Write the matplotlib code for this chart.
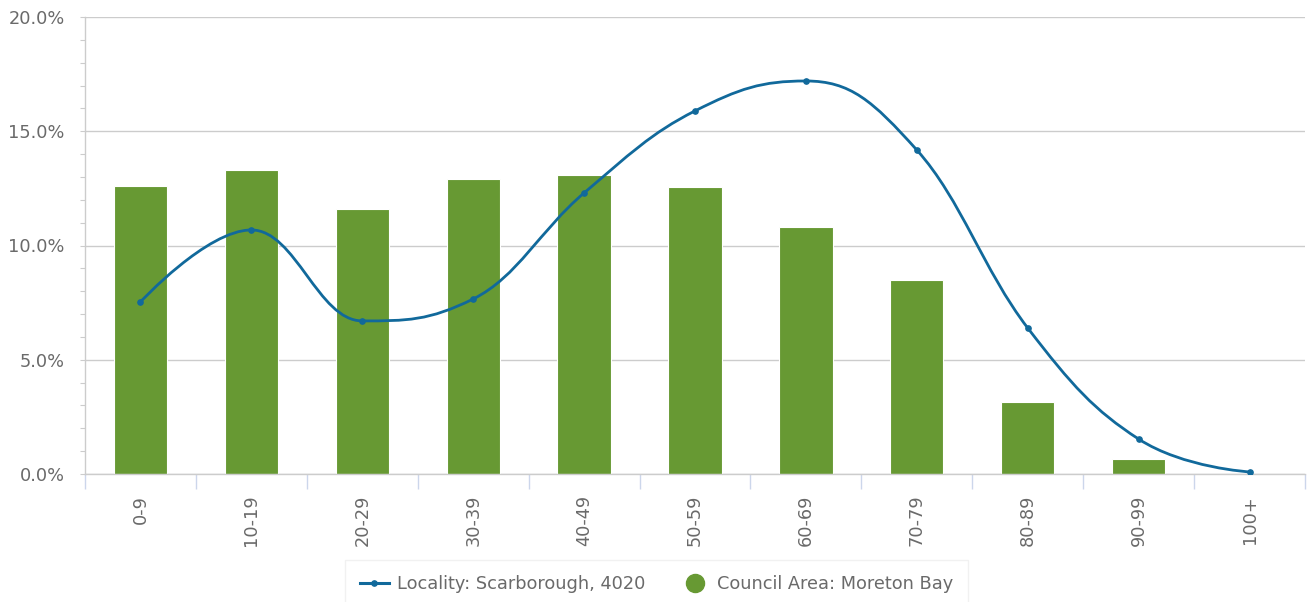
import numpy as np
import matplotlib
matplotlib.use("Agg")
import matplotlib.pyplot as plt
from matplotlib.path import Path
from matplotlib.patches import PathPatch
from matplotlib.lines import Line2D
from matplotlib.ticker import FixedLocator, FuncFormatter

# Age groups
categories = ['0-9', '10-19', '20-29', '30-39', '40-49', '50-59',
              '60-69', '70-79', '80-89', '90-99', '100+']
# Council Area: Moreton Bay (bars), percent
council = [12.6, 13.3, 11.6, 12.9, 13.1, 12.55, 10.8, 8.5, 3.15, 0.66, 0.02]
# Locality: Scarborough, 4020 (spline), percent
locality = [7.53, 10.68, 6.70, 7.66, 12.3, 15.89, 17.2, 14.18, 6.39, 1.53, 0.09]

GREEN = '#679933'
BLUE = '#11699b'
TXT = '#6a6a6a'
GRID = '#cccccc'
TICK = '#ccd6eb'
FS = 12.8


def spline_path(xs, ys, smoothing=1.5):
    # Highcharts-style spline: cubic bezier with corrected control points
    n = len(xs)
    left = [(x, y) for x, y in zip(xs, ys)]
    right = [(x, y) for x, y in zip(xs, ys)]
    denom = smoothing + 1
    for i in range(1, n - 1):
        x, y = xs[i], ys[i]
        lx, ly = xs[i - 1], ys[i - 1]
        nx, ny = xs[i + 1], ys[i + 1]
        lcx = (smoothing * x + lx) / denom
        lcy = (smoothing * y + ly) / denom
        rcx = (smoothing * x + nx) / denom
        rcy = (smoothing * y + ny) / denom
        if rcx != lcx:
            corr = ((rcy - lcy) * (rcx - x)) / (rcx - lcx) + y - rcy
            lcy += corr
            rcy += corr
        if lcy > ly and lcy > y:
            lcy = max(ly, y)
            rcy = 2 * y - lcy
        elif lcy < ly and lcy < y:
            lcy = min(ly, y)
            rcy = 2 * y - lcy
        if rcy > ny and rcy > y:
            rcy = max(ny, y)
            lcy = 2 * y - rcy
        elif rcy < ny and rcy < y:
            rcy = min(ny, y)
            lcy = 2 * y - rcy
        left[i] = (lcx, lcy)
        right[i] = (rcx, rcy)
    verts = [(xs[0], ys[0])]
    codes = [Path.MOVETO]
    for i in range(1, n):
        verts += [right[i - 1], left[i], (xs[i], ys[i])]
        codes += [Path.CURVE4] * 3
    return Path(verts, codes)


plt.rcParams['font.family'] = ['DejaVu Sans']

fig = plt.figure(figsize=(13.08, 6.02), dpi=100)
ax = fig.add_axes([85 / 1308, 1 - 474 / 602, (1305 - 85) / 1308, (474 - 17) / 602])

x = np.arange(len(categories))
ax.bar(x, council, width=0.48, color=GREEN, edgecolor='white', linewidth=0.8, zorder=2)

path = spline_path(list(x.astype(float)), locality)
ax.add_patch(PathPatch(path, facecolor='none', edgecolor=BLUE, lw=2.0, zorder=3,
                       capstyle='round', joinstyle='round'))
ax.plot(x, locality, linestyle='none', marker='o', markersize=3.8, color=BLUE, zorder=4)

ax.set_xlim(-0.5, len(categories) - 0.5)
ax.set_ylim(0, 20)

# y axis
ax.yaxis.set_major_locator(FixedLocator([0, 5, 10, 15, 20]))
ax.yaxis.set_minor_locator(FixedLocator([v for v in range(0, 21) if v % 5]))
ax.yaxis.set_major_formatter(FuncFormatter(lambda v, p: f'{v:.1f}%'))
ax.tick_params(axis='y', which='both', length=3.6, width=0.8, color=GRID,
               labelcolor=TXT, labelsize=FS, pad=11)
ax.grid(axis='y', color=GRID, linewidth=1.0, zorder=0)
ax.set_axisbelow(True)

# x axis: labels at centers, ticks at category boundaries
ax.set_xticks(x)
ax.set_xticklabels(categories, rotation=90, va='top', ha='center')
ax.xaxis.set_minor_locator(FixedLocator(np.arange(-0.5, len(categories), 1.0)))
ax.tick_params(axis='x', which='major', length=0, labelcolor=TXT, labelsize=FS, pad=15)
ax.tick_params(axis='x', which='minor', length=11, width=1.0, color=TICK)

for s in ['top', 'right']:
    ax.spines[s].set_visible(False)
ax.spines['left'].set_color(GRID)
ax.spines['bottom'].set_color(GRID)
ax.spines['left'].set_linewidth(1.0)
ax.spines['bottom'].set_linewidth(1.0)

handles = [
    Line2D([0], [0], color=BLUE, lw=2.2, marker='o', markersize=3.8),
    Line2D([0], [0], color=GREEN, lw=0, marker='o', markersize=13),
]
labels = ['Locality: Scarborough, 4020', 'Council Area: Moreton Bay']
leg = fig.legend(handles, labels, loc='upper center', bbox_to_anchor=(0.502, 1 - 560 / 602),
                 borderaxespad=0, ncol=2, frameon=True, fancybox=False, fontsize=FS,
                 labelcolor=TXT, handlelength=1.6, handletextpad=0.45, columnspacing=2.0,
                 borderpad=0.85, edgecolor='#eeeeee')
leg.get_frame().set_linewidth(1.0)

fig.savefig('out.png', dpi=100)
